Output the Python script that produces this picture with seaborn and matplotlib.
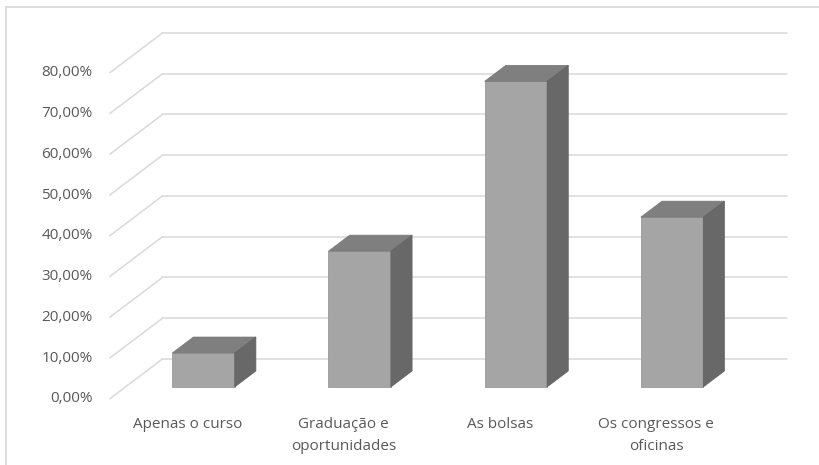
import matplotlib
matplotlib.use("Agg")
import matplotlib.pyplot as plt
from matplotlib.patches import Polygon
from matplotlib.lines import Line2D
import seaborn as sns
import pandas as pd

categories = ["Apenas o curso", "Graduação e\noportunidades", "As bolsas", "Os congressos e\noficinas"]
values = [8.33, 33.33, 75.0, 41.67]
yticks = [0, 10, 20, 30, 40, 50, 60, 70, 80]
ytick_labels = ["0,00%", "10,00%", "20,00%", "30,00%", "40,00%", "50,00%", "60,00%", "70,00%", "80,00%"]

sns.set_theme(style="white")
plt.rcParams['font.family'] = ['Open Sans', 'DejaVu Sans']

df = pd.DataFrame({"cat": categories, "val": values})

fig = plt.figure(figsize=(8.2, 4.65), dpi=100)
ax = fig.add_axes([0.1053, 0.1152, 0.8857, 0.8413])

# full depth vector of the 3D box, in data units (x: categories, y: percent)
DX, DY = 0.339, 9.82
f0 = 0.3   # bar front face depth
bd = 0.4   # bar depth fraction
grid_c = "#D9D9D9"
text_c = "#595959"

# back wall gridlines + left side diagonals
x_left = -0.5
x_right = 3.5
for v in yticks:
    fx, fy = x_left - f0 * DX, v - f0 * DY
    bx, by = x_left + (1 - f0) * DX, v + (1 - f0) * DY
    ax.plot([fx, bx], [fy, by], color=grid_c, lw=1.1, zorder=0, solid_capstyle="butt")
    ax.plot([bx, x_right + (1 - f0) * DX], [by, by], color=grid_c, lw=1.1, zorder=0)

sns.barplot(data=df, x="cat", y="val", color="#A5A5A5", width=0.4, ax=ax,
            saturation=1, edgecolor="#9A9A9A", linewidth=0.6, zorder=2)

ddx, ddy = bd * DX, bd * DY
for p in ax.patches:
    x0 = p.get_x(); w = p.get_width(); h = p.get_height()
    top = Polygon([(x0, h), (x0 + w, h), (x0 + w + ddx, h + ddy), (x0 + ddx, h + ddy)],
                  closed=True, facecolor="#7F7F7F", edgecolor="#777777", lw=0.5, zorder=2)
    side = Polygon([(x0 + w, 0), (x0 + w, h), (x0 + w + ddx, h + ddy), (x0 + w + ddx, ddy)],
                   closed=True, facecolor="#686868", edgecolor="#626262", lw=0.5, zorder=2)
    ax.add_patch(top)
    ax.add_patch(side)

# y tick labels on front plane
for v, lab in zip(yticks, ytick_labels):
    ax.text(-0.71, v - f0 * DY, lab, ha="right", va="center", fontsize=11, color=text_c)

# category labels along the front edge
for i, lab in enumerate(categories):
    ax.text(i - f0 * DX, -7.4, lab, ha="center", va="top", fontsize=11,
            color=text_c, linespacing=1.6)

ax.set_xlim(-0.75, 3.9)
ax.set_ylim(-6, 90)
ax.set_axis_off()

# chart frame
fig.add_artist(Line2D([6.5 / 820, 6.5 / 820], [0, 1 - 7 / 465], transform=fig.transFigure, color=grid_c, lw=1.2))
fig.add_artist(Line2D([6.5 / 820, 1], [1 - 7 / 465, 1 - 7 / 465], transform=fig.transFigure, color=grid_c, lw=1.2))

fig.savefig("out.png", dpi=100, facecolor="white")
